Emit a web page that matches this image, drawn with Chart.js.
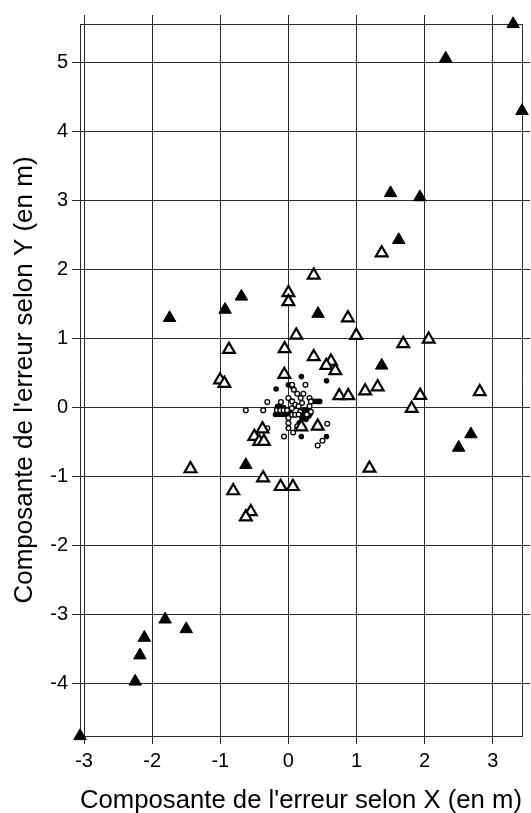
<!DOCTYPE html>
<html>
<head>
<meta charset="utf-8">
<script src="https://cdn.jsdelivr.net/npm/chart.js@4/dist/chart.umd.min.js"></script>
<style>
  html, body { margin: 0; padding: 0; background: #fff; }
</style>
</head>
<body>
<canvas id="errChart" width="531" height="813"></canvas>
<script>
// Axis ticks
const xTicks = [-3, -2, -1, 0, 1, 2, 3];
const yTicks = [-4, -3, -2, -1, 0, 1, 2, 3, 4, 5];

// Filled triangles
const triPleinX = [3.30, 3.43, 2.31, 1.50, 1.93, 1.62, 0.435, 1.37, 2.68, 2.50, -1.745, -0.93, -0.69, -0.625, -1.81, -1.50, -2.115, -2.18, -2.25, -3.06];
const triPleinY = [5.56, 4.30, 5.06, 3.11, 3.05, 2.43, 1.36, 0.61, -0.385, -0.58, 1.30, 1.42, 1.61, -0.83, -3.07, -3.21, -3.335, -3.59, -3.97, -4.76];

// Open triangles
const triVideX = [1.37, 0.372, 0.0, 0.0, 0.873, 0.996, 0.115, -0.055, -0.873, 1.686, 2.06, 0.372, 0.625, 0.557, 0.689, -0.06, -1.004, -0.94, 0.747, 0.879, 1.127, 1.31, 1.934, 2.81, 1.81, 0.43, 0.19, -0.38, -0.50, -0.43, -0.36, -1.438, -0.372, -0.81, -0.114, 0.066, -0.552, -0.625, 1.19];
const triVideY = [2.24, 1.92, 1.666, 1.535, 1.30, 1.046, 1.05, 0.853, 0.843, 0.926, 0.99, 0.737, 0.67, 0.61, 0.534, 0.48, 0.40, 0.35, 0.171, 0.171, 0.24, 0.30, 0.176, 0.23, -0.013, -0.27, -0.28, -0.31, -0.42, -0.49, -0.49, -0.888, -1.019, -1.207, -1.145, -1.145, -1.51, -1.585, -0.88];

// Filled circles
const rondPleinX = [0.19, 0.56, -0.18, 0.0, 0.05, -0.16, -0.12, -0.07, -0.19, -0.14, -0.09, -0.04, -0.11, 0.37, 0.42, 0.46, 0.22, 0.27, 0.18, 0.24, 0.30, 0.20, 0.26, 0.32, 0.13, 0.19, 0.56, 0.16, 0.03, 0.10];
const rondPleinY = [0.45, 0.39, 0.27, 0.33, 0.31, 0.02, 0.0, 0.0, -0.10, -0.10, -0.10, -0.10, -0.05, 0.09, 0.09, 0.09, -0.04, -0.04, -0.09, -0.12, -0.12, -0.16, -0.17, -0.09, -0.30, -0.42, -0.42, -0.22, -0.06, 0.02];

// Open circles
const rondVideX = [-0.625, -0.37, -0.31, 0.055, 0.08, 0.13, 0.25, 0.18, 0.20, 0.0, 0.055, 0.10, 0.15, 0.31, 0.33, 0.31, 0.33, 0.0, 0.0, 0.0, 0.055, 0.10, -0.31, -0.065, 0.07, 0.13, 0.57, 0.50, 0.43, -0.11, -0.17, -0.12, -0.07, -0.02, 0.17, 0.15, 0.27, 0.05, 0.22];
const rondVideY = [-0.04, -0.04, 0.08, 0.33, 0.26, 0.20, 0.33, 0.14, 0.065, 0.14, 0.09, 0.04, 0.02, 0.14, 0.09, 0.02, -0.06, -0.15, -0.225, -0.30, -0.105, -0.105, -0.30, -0.42, -0.36, -0.27, -0.235, -0.48, -0.55, 0.08, -0.04, -0.04, -0.04, -0.04, -0.06, -0.10, -0.10, -0.01, 0.20];

const pts = (xs, ys) => xs.map((x, i) => ({ x: x, y: ys[i] }));

const gridCol = '#2a2a2a';
const setTicks = vals => scale => { scale.ticks = vals.map(v => ({ value: v })); };

new Chart(document.getElementById('errChart'), {
    type: 'scatter',
    data: {
        datasets: [
            { label: 'triVide', data: pts(triVideX, triVideY), pointStyle: 'triangle', pointRadius: 6.8,
              backgroundColor: '#fff', borderColor: '#000', borderWidth: 2.2, clip: false },
            { label: 'triPlein', data: pts(triPleinX, triPleinY), pointStyle: 'triangle', pointRadius: 7.2,
              backgroundColor: '#000', borderColor: '#000', borderWidth: 1, clip: false },
            { label: 'rondVide', data: pts(rondVideX, rondVideY), pointStyle: 'circle', pointRadius: 2.4,
              backgroundColor: '#fff', borderColor: '#000', borderWidth: 1.3, clip: false },
            { label: 'rondPlein', data: pts(rondPleinX, rondPleinY), pointStyle: 'circle', pointRadius: 2.8,
              backgroundColor: '#000', borderColor: '#000', borderWidth: 0, clip: false }
        ]
    },
    options: {
        responsive: false,
        animation: false,
        events: [],
        layout: { padding: 0 },
        plugins: { legend: { display: false }, tooltip: { enabled: false } },
        scales: {
            x: {
                type: 'linear', position: 'bottom', min: -3.06, max: 3.43,
                afterBuildTicks: setTicks(xTicks),
                afterFit: s => { s.height = 77; },
                grid: { color: gridCol, lineWidth: 1, tickLength: 8 },
                border: { color: gridCol },
                ticks: { color: '#000', padding: 5, font: { family: 'Liberation Sans', size: 20 } },
                title: { display: true, text: "Composante de l'erreur selon X (en m)", color: '#000',
                         padding: { top: 0, bottom: -1 }, font: { family: 'Liberation Sans', size: 26, lineHeight: 1 } }
            },
            xTop: {
                type: 'linear', position: 'top', min: -3.06, max: 3.43,
                afterBuildTicks: setTicks(xTicks),
                afterFit: s => { s.height = 24; },
                grid: { color: gridCol, lineWidth: 1, tickLength: 9, drawOnChartArea: false },
                border: { color: gridCol },
                ticks: { display: false }
            },
            y: {
                type: 'linear', position: 'left', min: -4.76, max: 5.56,
                afterBuildTicks: setTicks(yTicks),
                afterFit: s => { s.width = 80; },
                grid: { color: gridCol, lineWidth: 1, tickLength: 8 },
                border: { color: gridCol },
                ticks: { color: '#000', padding: 4, font: { family: 'Liberation Sans', size: 20 } },
                title: { display: true, text: "Composante de l'erreur selon Y (en m)", color: '#000',
                         padding: { top: 12, bottom: 0 }, font: { family: 'Liberation Sans', size: 26, lineHeight: 1 } }
            },
            yRight: {
                type: 'linear', position: 'right', min: -4.76, max: 5.56,
                afterBuildTicks: setTicks(yTicks),
                afterFit: s => { s.width = 7; },
                grid: { color: gridCol, lineWidth: 1, tickLength: 8, drawOnChartArea: false },
                border: { color: gridCol },
                ticks: { display: false }
            }
        }
    }
});
</script>
</body>
</html>
